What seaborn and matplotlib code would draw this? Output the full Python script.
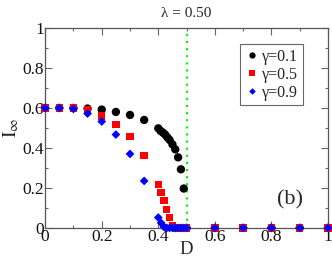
import seaborn as sns
import matplotlib.pyplot as plt
import pandas as pd

# values
d_g01 = [0, 0.05, 0.1, 0.15, 0.2, 0.25, 0.3, 0.35, 0.4, 0.408, 0.416, 0.424, 0.432, 0.44,
         0.45, 0.46, 0.47, 0.48, 0.49, 0.5, 0.6, 0.7, 0.8, 0.9, 1.0]
i_g01 = [0.6, 0.6, 0.6, 0.597, 0.592, 0.58, 0.565, 0.54, 0.498, 0.485, 0.477, 0.467, 0.453, 0.44,
         0.418, 0.393, 0.353, 0.293, 0.197, 0, 0, 0, 0, 0, 0]

d_g05 = [0, 0.05, 0.1, 0.15, 0.2, 0.25, 0.3, 0.35, 0.4, 0.41, 0.42, 0.43, 0.44, 0.45,
         0.46, 0.47, 0.48, 0.49, 0.5, 0.6, 0.7, 0.8, 0.9, 1.0]
i_g05 = [0.6, 0.6, 0.6, 0.59, 0.56, 0.518, 0.457, 0.362, 0.218, 0.177, 0.138, 0.093, 0.053, 0.013,
         0, 0, 0, 0, 0, 0, 0, 0, 0, 0]

d_g09 = [0, 0.05, 0.1, 0.15, 0.2, 0.25, 0.3, 0.35, 0.4, 0.41, 0.42, 0.43, 0.44, 0.45,
         0.46, 0.47, 0.48, 0.49, 0.5, 0.6, 0.7, 0.8, 0.9, 1.0]
i_g09 = [0.6, 0.6, 0.595, 0.572, 0.532, 0.467, 0.37, 0.235, 0.052, 0.025, 0.005, 0, 0, 0,
         0, 0, 0, 0, 0, 0, 0, 0, 0, 0]

labels = ["γ=0.1", "γ=0.5", "γ=0.9"]

df = pd.concat([
    pd.DataFrame({"D": d_g01, "I": i_g01, "g": labels[0]}),
    pd.DataFrame({"D": d_g05, "I": i_g05, "g": labels[1]}),
    pd.DataFrame({"D": d_g09, "I": i_g09, "g": labels[2]}),
], ignore_index=True)

sns.set_theme(style="ticks")
serif = ['Liberation Serif', 'DejaVu Serif']
plt.rcParams['font.family'] = serif
plt.rcParams['mathtext.fontset'] = 'stix'

fig = plt.figure(figsize=(3.32, 2.59), dpi=100)
ax = fig.add_axes([0.136, 0.12, 0.852, 0.772])

ax.axvline(0.5, color='#11ee11', ls=(0, (1, 2.2)), lw=1.6, zorder=1)

sns.scatterplot(data=df, x="D", y="I", hue="g", style="g", size="g",
                palette={labels[0]: "black", labels[1]: "#ff0000", labels[2]: "#0000ff"},
                markers={labels[0]: "o", labels[1]: "s", labels[2]: "D"},
                sizes={labels[0]: 36, labels[1]: 28, labels[2]: 20},
                linewidth=0, ax=ax, zorder=3, clip_on=False)

handles, labs = ax.get_legend_handles_labels()
leg = ax.legend(handles, labs, loc="upper right", bbox_to_anchor=(0.912, 0.92),
                prop={"family": serif, "size": 11.5}, frameon=True, fancybox=False,
                edgecolor="#444444", handletextpad=0.2, borderpad=0.3, labelspacing=0.12,
                handlelength=0.9, borderaxespad=0, markerscale=0.75)
leg.get_frame().set_linewidth(0.8)

ax.set_xlim(0, 1)
ax.set_ylim(0, 1)
ax.set_xticks([0, 0.2, 0.4, 0.6, 0.8, 1.0])
ax.set_xticklabels(["0", "0.2", "0.4", "0.6", "0.8", "1"], family=serif)
ax.set_yticks([0, 0.2, 0.4, 0.6, 0.8, 1.0])
ax.set_yticklabels(["0", "0.2", "0.4", "0.6", "0.8", "1"], family=serif)
ax.set_xticks([0.1, 0.3, 0.5, 0.7, 0.9], minor=True)
ax.set_yticks([0.1, 0.3, 0.5, 0.7, 0.9], minor=True)
ax.tick_params(which="both", direction="in", top=True, right=True, labelsize=12.5,
               color="#666666", width=0.8, labelcolor="#111111")
ax.tick_params(which="major", length=5, pad=1)
ax.tick_params(which="minor", length=2.5)
for sp in ax.spines.values():
    sp.set_linewidth(0.9)
    sp.set_color("#555555")

ax.set_xlabel("D", fontsize=13.5, labelpad=-3, family=serif)
ax.set_ylabel(r"$\mathrm{I}_{\infty}$", fontsize=14, labelpad=1)
ax.set_title("λ = 0.50", fontsize=11, pad=8, family=serif)
ax.text(0.865, 0.14, "(b)", fontsize=16, ha="center", va="center", family=serif)

fig.savefig("out.png", dpi=100)
